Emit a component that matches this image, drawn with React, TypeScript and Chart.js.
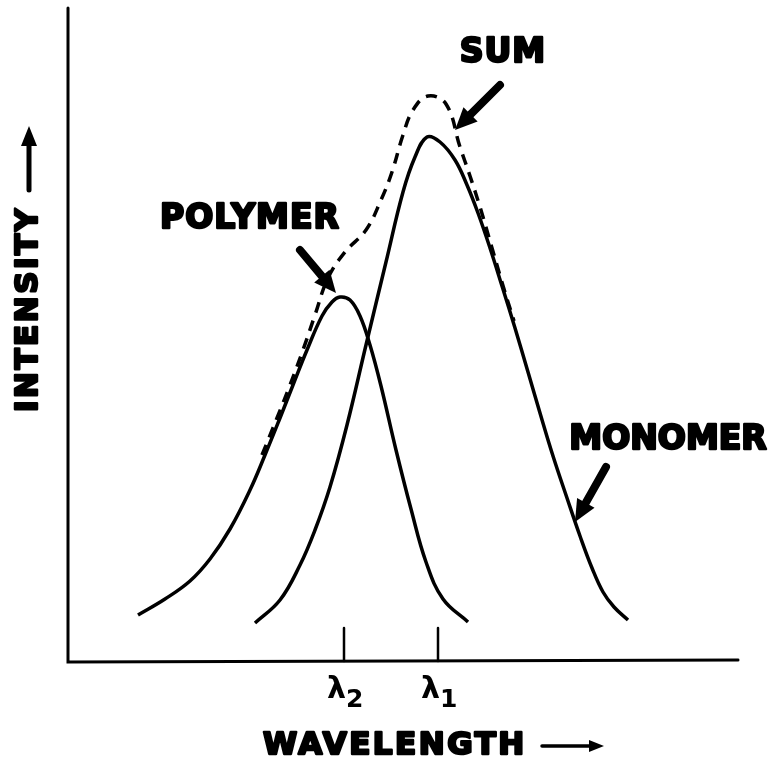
import React, { useEffect, useRef } from "react";
import { Chart, registerables } from "chart.js";

Chart.register(...registerables);

// Wavelength (arbitrary units) and intensity (arbitrary units)
const polymerWavelength = [68, 95, 120, 140, 160, 180, 195, 210, 223, 237, 252, 262, 270, 280, 290, 300, 311, 326, 341, 356, 373, 398];
const polymerIntensity = [46, 62, 80, 102, 132, 171, 206, 243, 276, 311, 345, 359, 364, 361, 345, 316, 275, 211, 152, 99, 62, 39];

const monomerWavelength = [185, 210, 230, 245, 260, 277, 296, 316, 333, 345, 357, 370, 385, 397, 408, 420, 432, 445, 458, 470, 483, 497, 510, 522, 533, 544, 558];
const monomerIntensity = [38, 61, 96, 131, 174, 236, 316, 399, 469, 504, 524, 519, 501, 476, 448, 413, 375, 333, 289, 248, 205, 163, 125, 93, 69, 54, 41];

const sumWavelength = [192, 207, 220, 233, 245, 258, 275, 296, 311, 322, 333, 343, 358, 376, 390, 400, 410, 422, 434, 444];
const sumIntensity = [206, 243, 276, 311, 346, 383, 409, 431, 461, 489, 526, 551, 565, 557, 514, 485, 454, 413, 372, 340];

const tickValues = [274, 368];
const tickSymbols = ["λ", "λ"];
const tickSubscripts = ["2", "1"];

const xTitle = "WAVELENGTH";
const yTitle = "INTENSITY";

const FONT = '"DejaVu Sans", "Liberation Sans", sans-serif';

function toPoints(xs: number[], ys: number[]) {
  return xs.map((x, i) => ({ x, y: ys[i] }));
}

function arrow(ctx: CanvasRenderingContext2D, x1: number, y1: number, x2: number, y2: number, w: number, hl: number, hw: number) {
  const a = Math.atan2(y2 - y1, x2 - x1);
  const bx = x2 - hl * Math.cos(a);
  const by = y2 - hl * Math.sin(a);
  ctx.save();
  ctx.strokeStyle = "#000";
  ctx.fillStyle = "#000";
  ctx.lineWidth = w;
  ctx.lineCap = "round";
  ctx.beginPath();
  ctx.moveTo(x1, y1);
  ctx.lineTo(bx, by);
  ctx.stroke();
  ctx.beginPath();
  ctx.moveTo(x2, y2);
  ctx.lineTo(bx + hw * Math.sin(a), by - hw * Math.cos(a));
  ctx.lineTo(bx - hw * Math.sin(a), by + hw * Math.cos(a));
  ctx.closePath();
  ctx.fill();
  ctx.restore();
}

function heavyText(ctx: CanvasRenderingContext2D, text: string, x: number, y: number, size: number, align: CanvasTextAlign = "center", spacing = 0) {
  ctx.save();
  ctx.font = `bold ${size}px ${FONT}`;
  (ctx as any).letterSpacing = `${spacing}px`;
  ctx.textAlign = align;
  ctx.textBaseline = "middle";
  ctx.fillStyle = "#000";
  ctx.strokeStyle = "#000";
  ctx.lineWidth = 2.5;
  ctx.lineJoin = "round";
  ctx.fillText(text, x, y);
  ctx.strokeText(text, x, y);
  ctx.restore();
}

const decorPlugin = {
  id: "decor",
  afterDraw(chart: any) {
    const ctx: CanvasRenderingContext2D = chart.ctx;
    const xs = chart.scales.x;
    const ys = chart.scales.y;
    const X = (v: number) => xs.getPixelForValue(v);
    const Y = (v: number) => ys.getPixelForValue(v);
    const { left, right, top, bottom } = chart.chartArea;

    ctx.save();
    ctx.strokeStyle = "#000";
    ctx.lineWidth = 3;
    ctx.lineCap = "round";
    ctx.beginPath();
    ctx.moveTo(left - 2, top - 2);
    ctx.lineTo(left - 2, bottom + 1);
    ctx.lineTo(right, bottom - 1);
    ctx.stroke();

    // ticks
    ctx.lineWidth = 2.5;
    tickValues.forEach((v, i) => {
      const px = X(v);
      ctx.beginPath();
      ctx.moveTo(px, Y(33));
      ctx.lineTo(px, bottom);
      ctx.stroke();
      ctx.font = `bold 30px ${FONT}`;
      ctx.fillStyle = "#000";
      ctx.textBaseline = "alphabetic";
      ctx.textAlign = "right";
      ctx.fillText(tickSymbols[i], px + 2, bottom + 37);
      ctx.textAlign = "left";
      ctx.font = `bold 25px ${FONT}`;
      ctx.fillText(tickSubscripts[i], px + 2, bottom + 46);
    });
    ctx.restore();

    // x title + arrow
    heavyText(ctx, xTitle, 263, 746, 31, "left", 2.5);
    arrow(ctx, 542, 746, 604, 746, 3.5, 15, 6);

    // y title + arrow
    ctx.save();
    ctx.translate(29, 412);
    ctx.rotate(-Math.PI / 2);
    heavyText(ctx, yTitle, 0, 0, 31, "left", 2.5);
    ctx.restore();
    arrow(ctx, 29, 190, 29, 126, 5, 20, 8);

    // annotations
    heavyText(ctx, "SUM", X(433), Y(608), 33, "center", 1);
    arrow(ctx, X(430), Y(576), X(385), Y(531), 8, 22, 10);

    heavyText(ctx, "POLYMER", X(180), Y(442), 33, "center", 1);
    arrow(ctx, X(230), Y(411), X(266), Y(368), 8, 22, 10);

    heavyText(ctx, "MONOMER", X(598), Y(221), 33, "center", 0);
    arrow(ctx, X(536), Y(194), X(505), Y(139), 8, 22, 10);
  },
};

export default function App() {
  const ref = useRef<HTMLCanvasElement | null>(null);
  useEffect(() => {
    if (!ref.current) return;
    const chart = new Chart(ref.current, {
      type: "line",
      data: {
        datasets: [
          {
            label: "Polymer",
            data: toPoints(polymerWavelength, polymerIntensity),
            borderColor: "#000",
            borderWidth: 3.5,
            pointRadius: 0,
            tension: 0.4,
            fill: false,
          },
          {
            label: "Monomer",
            data: toPoints(monomerWavelength, monomerIntensity),
            borderColor: "#000",
            borderWidth: 3.5,
            pointRadius: 0,
            tension: 0.4,
            fill: false,
          },
          {
            label: "Sum",
            data: toPoints(sumWavelength, sumIntensity),
            borderColor: "#000",
            borderWidth: 3.5,
            borderDash: [11, 8],
            pointRadius: 0,
            tension: 0.4,
            fill: false,
          },
        ],
      },
      options: {
        animation: false,
        responsive: false,
        devicePixelRatio: 1,
        layout: { padding: { left: 70, right: 34, top: 10, bottom: 102 } },
        plugins: { legend: { display: false }, tooltip: { enabled: false } },
        scales: {
          x: { type: "linear", min: 0, max: 668, display: false },
          y: { type: "linear", min: 0, max: 651, display: false },
        },
      },
      plugins: [decorPlugin],
    });
    return () => chart.destroy();
  }, []);
  return (
    <div style={{ position: "fixed", left: 0, top: 0, width: 772, height: 763, background: "#fff" }}>
      <canvas ref={ref} width={772} height={763} />
    </div>
  );
}
